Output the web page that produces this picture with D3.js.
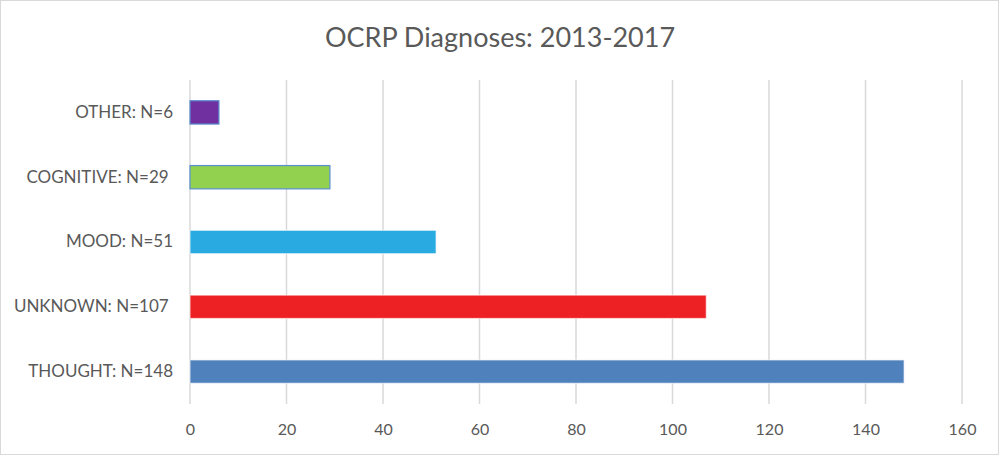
<!DOCTYPE html>
<html>
<head>
<meta charset="utf-8">
<script src="https://cdn.jsdelivr.net/npm/d3@7"></script>
<style>
  body { margin: 0; background: #fff; }
  svg text { font-family: Lato, "Open Sans", sans-serif; fill: #595959; }
</style>
</head>
<body>
<svg id="chart"></svg>
<script>
const W = 1000, H = 456

// data
const categories = ['OTHER: N=6', 'COGNITIVE: N=29\u00a0', 'MOOD: N=51', 'UNKNOWN: N=107\u00a0', 'THOUGHT: N=148']
const counts = [6, 29, 51, 107, 148]
const barColors = ['#7030a0', '#92d050', '#29abe2', '#ed2024', '#4f81bd']
const outlined = [true, true, false, false, false]
const xTicks = [0, 20, 40, 60, 80, 100, 120, 140, 160]

const margin = {top: 80, right: 38, bottom: 52, left: 190}

const svg = d3.select('#chart')
    .attr('width', W)
    .attr('height', H)

// outer frame
svg.append('rect')
    .attr('x', 0.5).attr('y', 0.5)
    .attr('width', W - 2).attr('height', H - 2)
    .attr('fill', '#fff')
    .attr('stroke', '#d9d9d9')

const x = d3.scaleLinear().domain([0, 160]).range([margin.left, W - margin.right])
const y = d3.scaleBand().domain(categories).range([margin.top, H - margin.bottom]).paddingInner(0.64).paddingOuter(0.32)

// title
svg.append('text')
    .attr('x', W / 2).attr('y', 47)
    .attr('text-anchor', 'middle')
    .style('font-size', '27px')
    .text('OCRP Diagnoses: 2013-2017')

// vertical gridlines
svg.append('g')
    .selectAll('line')
    .data(xTicks)
    .enter()
    .append('line')
    .attr('x1', d => x(d)).attr('x2', d => x(d))
    .attr('y1', margin.top).attr('y2', H - margin.bottom)
    .attr('stroke', '#d9d9d9')
    .attr('stroke-width', 1.5)

// x axis labels
const xAxis = d3.axisBottom(x).tickValues(xTicks).tickSize(0).tickPadding(20)
const gx = svg.append('g')
    .attr('transform', `translate(0,${H - margin.bottom})`)
    .call(xAxis)
gx.select('.domain').remove()
gx.selectAll('text')
    .style('font-family', 'Lato, "Open Sans", sans-serif')
    .style('font-size', '16px')
    .attr('fill', '#595959')

// category labels
const yAxis = d3.axisLeft(y).tickSize(0).tickPadding(17)
const gy = svg.append('g')
    .attr('transform', `translate(${margin.left},0)`)
    .call(yAxis)
gy.select('.domain').remove()
gy.selectAll('text')
    .style('font-family', 'Lato, "Open Sans", sans-serif')
    .style('font-size', '17px')
    .style('white-space', 'pre')
    .attr('fill', '#595959')

// bars
svg.append('g')
    .selectAll('rect')
    .data(counts)
    .enter()
    .append('rect')
    .attr('x', x(0))
    .attr('y', (d, i) => y(categories[i]))
    .attr('width', d => x(d) - x(0))
    .attr('height', y.bandwidth())
    .attr('fill', (d, i) => barColors[i])
    .attr('stroke', (d, i) => outlined[i] ? '#5b8fd0' : '#ffffff')
    .attr('stroke-opacity', (d, i) => outlined[i] ? 1 : 0.6)
    .attr('stroke-width', 1.2)
</script>
</body>
</html>
